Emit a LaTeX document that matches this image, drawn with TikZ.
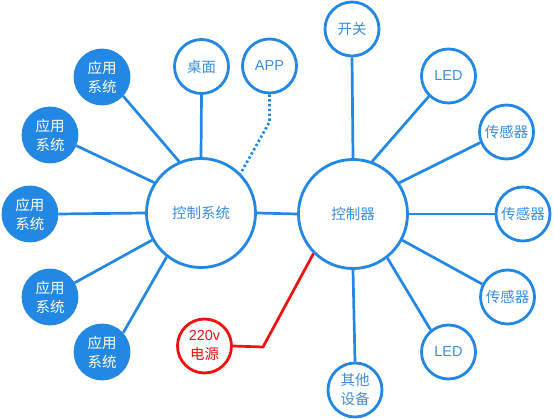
\documentclass[tikz,border=0pt]{standalone}
\usepackage{fontspec}
\setmainfont{Noto Sans CJK SC}
\newfontfamily\latinf{Liberation Sans}
\usetikzlibrary{shadows}
\definecolor{bl}{HTML}{2288E4}
\definecolor{blt}{HTML}{3A8DE0}
\definecolor{rd}{HTML}{F01010}
\tikzset{
  x=1pt,y=-1pt,
  base/.style={circle,line width=2.8pt,inner sep=0pt,align=center,
    font=\fontsize{14.5}{19}\selectfont},
  small/.style={base,minimum size=54pt,draw=bl,fill=white,text=blt,
    drop shadow={opacity=0.12,shadow xshift=0pt,shadow yshift=0pt,shadow scale=1.04}},
  filled/.style={base,minimum size=54pt,draw=bl,fill=bl,text=white},
  big/.style={base,minimum size=109pt,draw=bl,fill=white,text=blt,
    drop shadow={opacity=0.12,shadow xshift=0pt,shadow yshift=0pt,shadow scale=1.03}},
  power/.style={base,minimum size=54pt,draw=rd,fill=white,text=rd},
  conn/.style={draw=bl,line width=2.7pt},
  dotconn/.style={draw=bl,line width=2.7pt,dash pattern=on 2.4pt off 2.4pt},
  redconn/.style={draw=rd,line width=2.7pt},
}
\begin{document}
\begin{tikzpicture}
\useasboundingbox (0,0) rectangle (554,419);
% hubs
\node[big] (cs) at (201,213) {控制系统};
\node[big] (ct) at (353,214) {控制器};
% left side
\node[filled] (a1) at (102,77) {应用\\系统};
\node[filled] (a2) at (50,135) {应用\\系统};
\node[filled] (a3) at (30,214) {应用\\系统};
\node[filled] (a4) at (50,297) {应用\\系统};
\node[filled] (a5) at (102,352) {应用\\系统};
\node[small] (zm) at (201.5,66.5) {桌面};
\node[small] (app) at (269.5,66) {\latinf APP};
\node[power] (pw) at (204.5,346) {{\latinf 220v}\\电源};
% right side
\node[small] (kg) at (352,29) {开关};
\node[small] (led1) at (448.5,76) {\latinf LED};
\node[small] (s1) at (506.5,132) {传感器};
\node[small] (s2) at (523,214) {传感器};
\node[small] (s3) at (507.5,297) {传感器};
\node[small] (led2) at (448.5,352) {\latinf LED};
\node[small] (qt) at (355,390) {其他\\设备};
\coordinate (appbend) at (269.5,122);
\coordinate (pwbend) at (263,347);
% connectors
\draw[conn] (a1.-42) -- (cs.113);
\draw[conn] (a2.-22) -- (cs.147);
\draw[conn] (a3.east) -- (cs.west);
\draw[conn] (a4.30) -- (cs.209);
\draw[conn] (a5.42) -- (cs.232);
\draw[conn] (zm.south) -- (cs.north);
\draw[dotconn] (app.south) -- (appbend) -- (cs.45);
\draw[conn] (cs.east) -- (ct.west);
\draw[redconn] (pw.east) -- (pwbend) -- (ct.225);
\draw[conn] (kg.south) -- (ct.north);
\draw[conn] (ct.70) -- (led1.226);
\draw[conn] (ct.34) -- (s1.202);
\draw[conn] (ct.east) -- (s2.west);
\draw[conn] (ct.-28) -- (s3.153);
\draw[conn] (ct.-52) -- (led2.129);
\draw[conn] (ct.south) -- (qt.north);
\end{tikzpicture}
\end{document}
